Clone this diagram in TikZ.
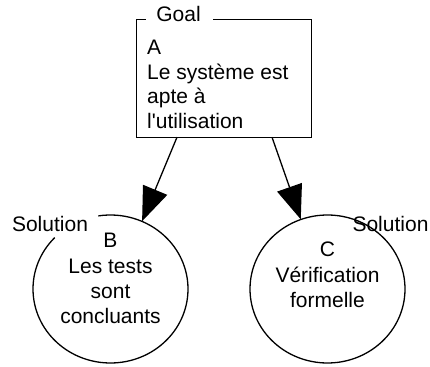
\documentclass[tikz,border=0pt]{standalone}
\usepackage{fontspec}
\setmainfont{Liberation Sans}[Ligatures=TeXOff]
\usetikzlibrary{arrows.meta,shapes.geometric}
\begin{document}
\begin{tikzpicture}[x=1pt,y=1pt,
  txt/.style={inner sep=0pt,font=\fontsize{21}{24.5}\selectfont},
  ctxt/.style={inner sep=0pt,font=\fontsize{21}{25.2}\selectfont},
  goalbox/.style={rectangle,draw=none,minimum width=174pt,minimum height=117pt,inner sep=0pt},
  solnode/.style={ellipse,draw=none,minimum width=155pt,minimum height=148pt,inner sep=0pt},
  outline/.style={line width=1.3pt},
  arr/.style={line width=1.3pt,-{Triangle[length=34pt,width=26pt]}}]
\useasboundingbox (0,0) rectangle (430,366);
% Goal box
\node[goalbox] (A) at (224,287.5) {};
\draw[outline] ([xshift=9pt]A.north west) -- (A.north west) -- (A.south west) -- (A.south east) -- (A.north east) -- ([xshift=76pt]A.north west);
\node[txt,anchor=base] (goallbl) at (178.5,344) {Goal};
\node[txt,anchor=base west] (Atext) at (147,311) {\parbox[t]{170pt}{\raggedright A\\Le système est\\apte à\\l'utilisation}};
% Solution B
\node[solnode] (B) at (110.5,77) {};
\draw[outline] (B.center) ++(136:77.5pt and 74pt) arc[start angle=136,end angle=459,x radius=77.5pt,y radius=74pt];
\node[txt,anchor=base] (Blbl) at (50,134) {Solution};
\node[ctxt,anchor=base] (Btext) at (110.5,118) {\parbox[t]{150pt}{\centering B\\Les tests\\sont\\concluants}};
% Solution C
\node[solnode] (C) at (327.5,77) {};
\draw[outline] (C.center) ++(44:77.5pt and 74pt) arc[start angle=44,end angle=439,x radius=77.5pt,y radius=74pt];
\node[txt,anchor=base] (Clbl) at (390.5,134) {Solution};
\node[ctxt,anchor=base] (Ctext) at (327.5,109) {\parbox[t]{150pt}{\centering C\\Vérification\\formelle}};
% arrows
\draw[arr] ([xshift=-47pt]A.south) -- (B.65);
\draw[arr] ([xshift=48pt]A.south) -- (C.111);
\end{tikzpicture}
\end{document}
